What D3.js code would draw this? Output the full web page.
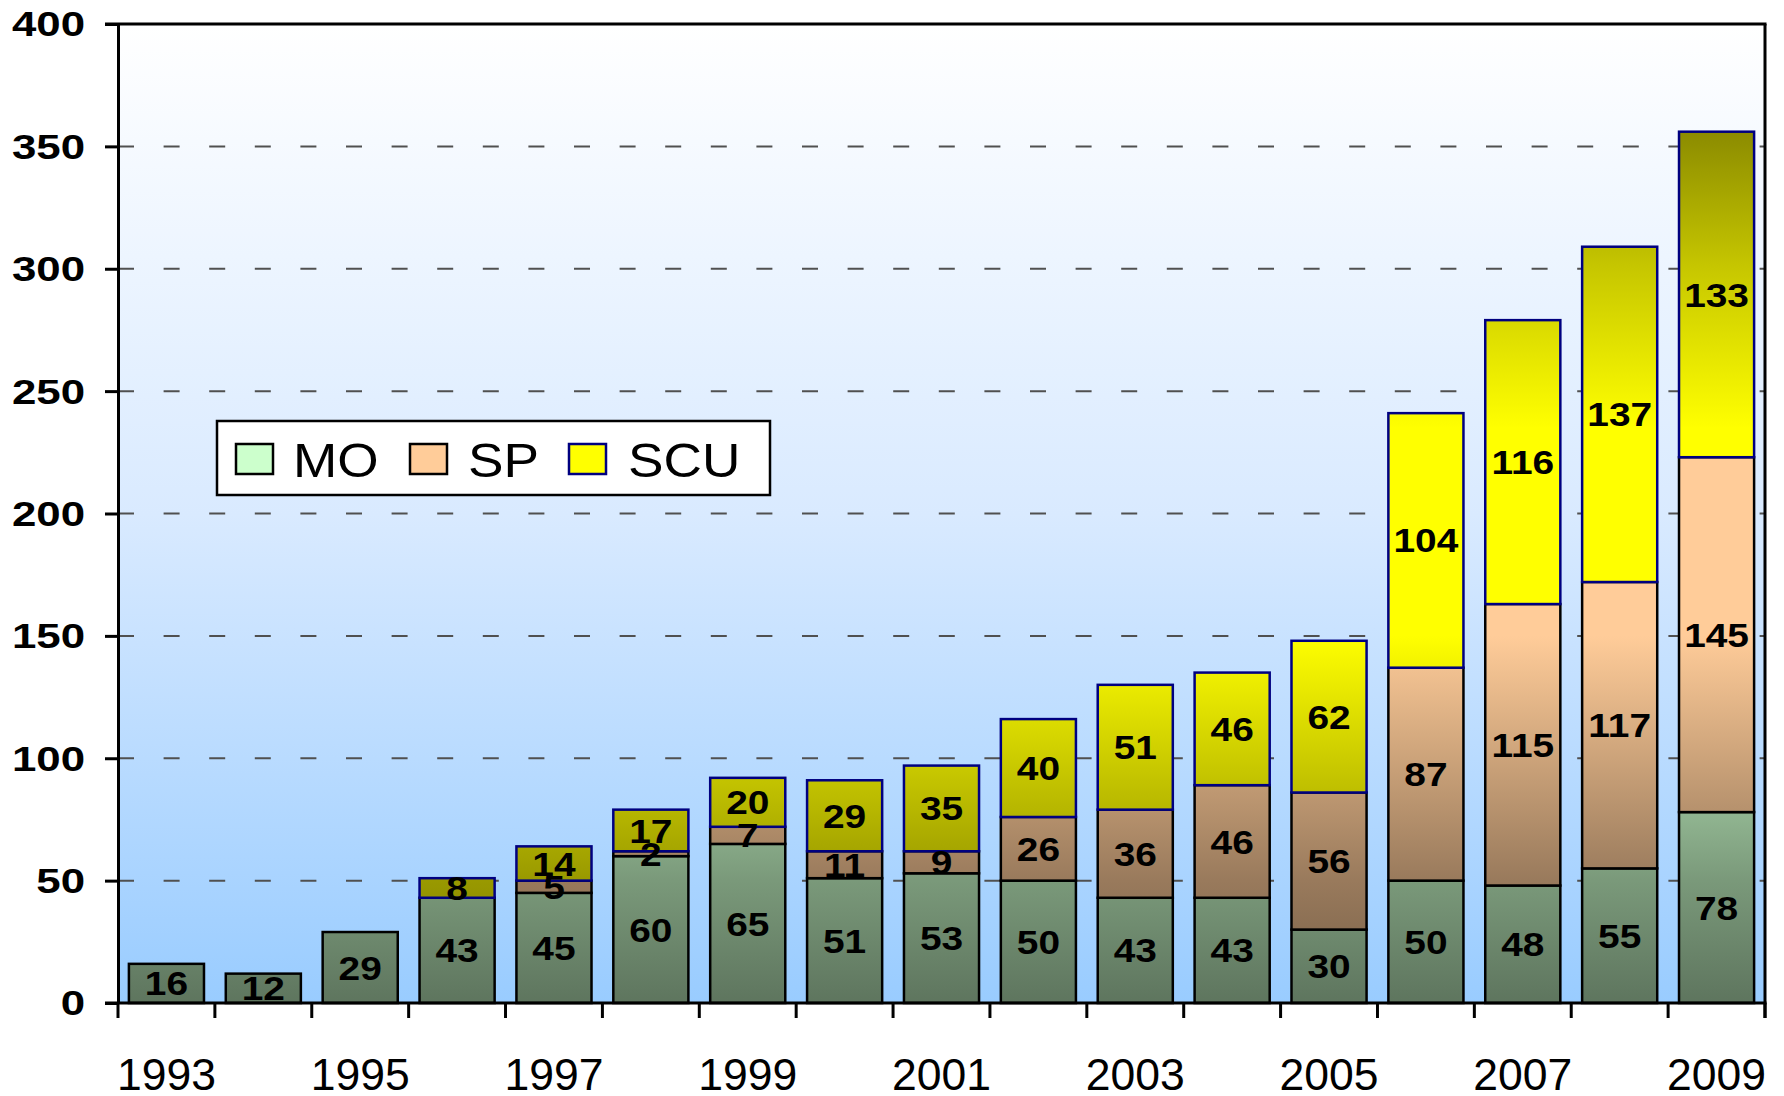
<!DOCTYPE html>
<html>
<head>
<meta charset="utf-8">
<script src="https://cdn.jsdelivr.net/npm/d3@7"></script>
<style>
  body { margin: 0; background: #fff; }
  svg { display: block; }
  text { font-family: "Liberation Sans", Arial, sans-serif; }
</style>
</head>
<body>
<script>
// data
let years = [1993, 1994, 1995, 1996, 1997, 1998, 1999, 2000, 2001, 2002, 2003, 2004, 2005, 2006, 2007, 2008, 2009];
let mo  = [16, 12, 29, 43, 45, 60, 65, 51, 53, 50, 43, 43, 30, 50, 48, 55, 78];
let sp  = [0, 0, 0, 0, 5, 2, 7, 11, 9, 26, 36, 46, 56, 87, 115, 117, 145];
let scu = [0, 0, 0, 8, 14, 17, 20, 29, 35, 40, 51, 46, 62, 104, 116, 137, 133];
let seriesNames = ['MO', 'SP', 'SCU'];
let yTicks = [0, 50, 100, 150, 200, 250, 300, 350, 400];
let xLabels = [1993, 1995, 1997, 1999, 2001, 2003, 2005, 2007, 2009];

let width = 1784, height = 1096;
let margin = { top: 24, right: 19, bottom: 93, left: 118 };

let baseColor = { MO: '#ccffcc', SP: '#ffcc99', SCU: '#ffff00' };
let strokeColor = { MO: '#000000', SP: '#000000', SCU: '#000080' };

let rows = years.map((yr, i) => ({ year: yr, MO: mo[i], SP: sp[i], SCU: scu[i] }));
let stacked = d3.stack().keys(seriesNames)(rows);

let svg = d3.select('body')
  .append('svg')
  .attr('width', width)
  .attr('height', height);

let xscale = d3.scaleBand()
  .domain(years)
  .range([margin.left, width - margin.right])
  .paddingInner(0.225)
  .paddingOuter(0.1125);

let yscale = d3.scaleLinear()
  .domain([0, 400])
  .range([height - margin.bottom, margin.top]);

let defs = svg.append('defs');

// plot background: white on top fading to light blue
let bg = defs.append('linearGradient')
  .attr('id', 'bg')
  .attr('x1', 0).attr('y1', 0).attr('x2', 0).attr('y2', 1);
bg.append('stop').attr('offset', '0%').attr('stop-color', '#ffffff');
bg.append('stop').attr('offset', '50%').attr('stop-color', '#d9eaff');
bg.append('stop').attr('offset', '100%').attr('stop-color', '#99ccff');

// series fills: darker near the bottom and the top of the plot
let shade = [[0, 0.46], [50, 0.6], [95, 0.78], [150, 1], [235, 1], [300, 0.78], [360, 0.53], [400, 0.42]];
seriesNames.forEach(name => {
  let g = defs.append('linearGradient')
    .attr('id', 'grad-' + name)
    .attr('gradientUnits', 'userSpaceOnUse')
    .attr('x1', 0).attr('x2', 0)
    .attr('y1', yscale(0)).attr('y2', yscale(400));
  let c = d3.rgb(baseColor[name]);
  shade.forEach(s => {
    g.append('stop')
      .attr('offset', (s[0] / 400 * 100) + '%')
      .attr('stop-color', d3.rgb(c.r * s[1], c.g * s[1], c.b * s[1]).formatHex());
  });
});

svg.append('rect')
  .attr('x', margin.left)
  .attr('y', margin.top)
  .attr('width', width - margin.right - margin.left)
  .attr('height', yscale(0) - margin.top)
  .attr('fill', 'url(#bg)');

// dashed gridlines
svg.append('g')
  .selectAll('line')
  .data(yTicks.filter(d => d > 0 && d < 400))
  .join('line')
  .attr('x1', margin.left)
  .attr('x2', width - margin.right)
  .attr('y1', d => yscale(d))
  .attr('y2', d => yscale(d))
  .attr('stroke', '#505050')
  .attr('stroke-width', 2)
  .attr('stroke-dasharray', '16,29.6');

// stacked bars
let layers = svg.append('g')
  .selectAll('g')
  .data(stacked)
  .join('g')
  .attr('fill', d => 'url(#grad-' + d.key + ')')
  .attr('stroke', d => strokeColor[d.key])
  .attr('stroke-width', 2.5);

layers.selectAll('rect')
  .data(d => d.filter(p => p[1] - p[0] > 0))
  .join('rect')
  .attr('x', d => xscale(d.data.year))
  .attr('y', d => yscale(d[1]))
  .attr('width', xscale.bandwidth())
  .attr('height', d => yscale(d[0]) - yscale(d[1]));

// segment labels
let labels = [];
stacked.forEach(layer => {
  layer.forEach(p => {
    if (p[1] - p[0] > 0) labels.push({ year: p.data.year, v: p[1] - p[0], mid: (p[0] + p[1]) / 2 });
  });
});

svg.append('g')
  .selectAll('text')
  .data(labels)
  .join('text')
  .attr('transform', d => `translate(${xscale(d.year) + xscale.bandwidth() / 2},${yscale(d.mid)}) scale(1.16,1)`)
  .attr('text-anchor', 'middle')
  .attr('dy', '0.36em')
  .attr('font-size', 33.5)
  .attr('font-weight', 'bold')
  .text(d => d.v);

// y axis
let yaxis = svg.append('g')
  .attr('transform', `translate(${margin.left},0)`)
  .call(d3.axisLeft(yscale).tickValues(yTicks).tickSize(13).tickSizeOuter(0).tickFormat(''));
yaxis.selectAll('path, line').attr('stroke', '#000').attr('stroke-width', 3);

svg.append('g')
  .selectAll('text')
  .data(yTicks)
  .join('text')
  .attr('transform', d => `translate(85,${yscale(d)}) scale(1.27,1)`)
  .attr('text-anchor', 'end')
  .attr('dy', '0.36em')
  .attr('font-size', 34.5)
  .attr('font-weight', 'bold')
  .text(d => d);

// x axis with ticks between categories
let step = xscale.step();
let bounds = years.map(d => xscale(d) - xscale.paddingOuter() * step);
bounds.push(width - margin.right);

svg.append('line')
  .attr('x1', margin.left - 13).attr('x2', width - margin.right + 1.5)
  .attr('y1', yscale(0)).attr('y2', yscale(0))
  .attr('stroke', '#000').attr('stroke-width', 3);

svg.append('g')
  .selectAll('line')
  .data(bounds)
  .join('line')
  .attr('x1', d => d).attr('x2', d => d)
  .attr('y1', yscale(0)).attr('y2', yscale(0) + 15)
  .attr('stroke', '#000').attr('stroke-width', 3);

svg.append('g')
  .selectAll('text')
  .data(xLabels)
  .join('text')
  .attr('x', d => xscale(d) + xscale.bandwidth() / 2)
  .attr('y', 1090)
  .attr('text-anchor', 'middle')
  .attr('font-size', 44.5)
  .text(d => d);

// frame top and right
svg.append('line')
  .attr('x1', margin.left - 13).attr('x2', width - margin.right + 1.5)
  .attr('y1', margin.top).attr('y2', margin.top)
  .attr('stroke', '#000').attr('stroke-width', 3);
svg.append('line')
  .attr('x1', width - margin.right).attr('x2', width - margin.right)
  .attr('y1', margin.top).attr('y2', yscale(0) + 15)
  .attr('stroke', '#000').attr('stroke-width', 3);

// legend
let legend = svg.append('g');
legend.append('rect')
  .attr('x', 217).attr('y', 421)
  .attr('width', 553).attr('height', 74)
  .attr('fill', '#fff')
  .attr('stroke', '#000')
  .attr('stroke-width', 2.5);

let legendX = [236, 410, 569];
let legendTextX = [293, 468, 628];
seriesNames.forEach((name, i) => {
  legend.append('rect')
    .attr('x', legendX[i]).attr('y', 444)
    .attr('width', 37).attr('height', 30)
    .attr('fill', baseColor[name])
    .attr('stroke', strokeColor[name])
    .attr('stroke-width', 2.5);
  legend.append('text')
    .attr('transform', `translate(${legendTextX[i]},477) scale(1.12,1)`)
    .attr('font-size', 47.5)
    .text(name);
});
</script>
</body>
</html>
